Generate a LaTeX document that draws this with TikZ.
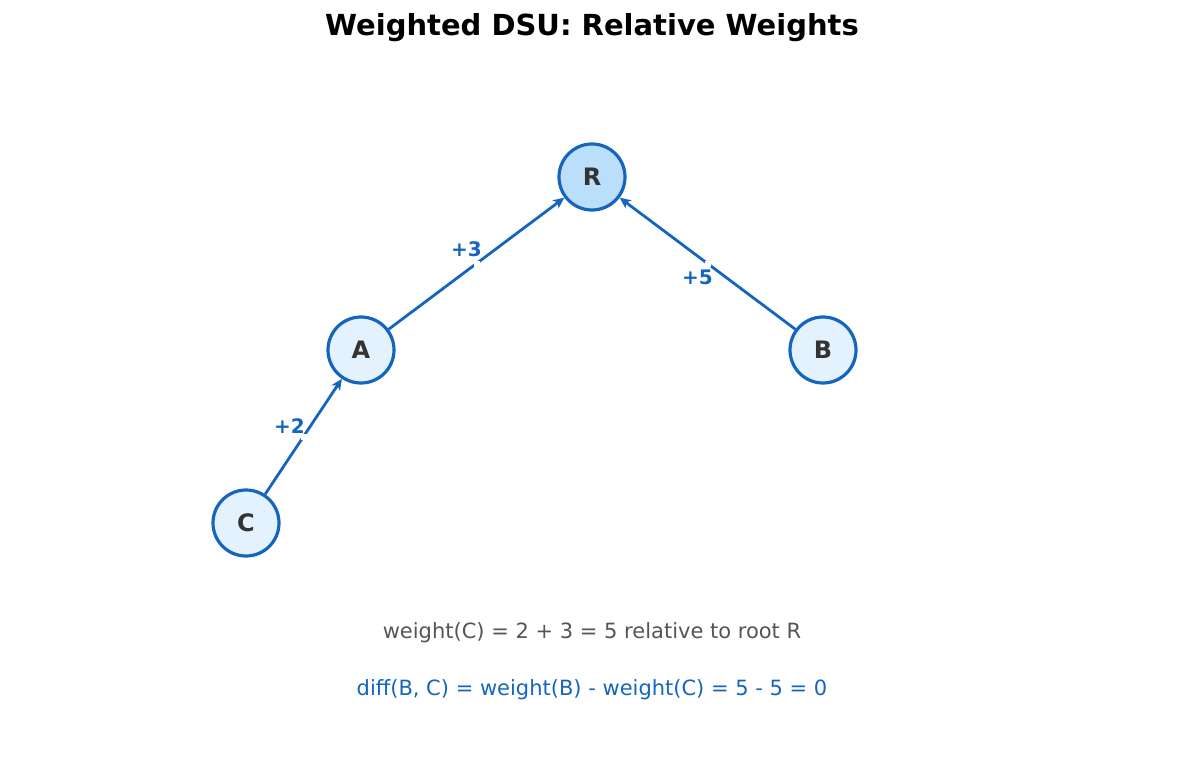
\documentclass[tikz,border=0pt]{standalone}
\usepackage{fontspec}
\setmainfont{DejaVu Sans}
\usetikzlibrary{arrows.meta}
\definecolor{edgeblue}{HTML}{1565C0}
\definecolor{nodefill}{HTML}{E3F2FD}
\definecolor{rootfill}{HTML}{BBDEFB}
\definecolor{darktext}{HTML}{333333}
\definecolor{graytext}{HTML}{555555}
\tikzstyle{vertex}=[circle,draw=edgeblue,line width=3.2pt,fill=nodefill,minimum size=66pt,inner sep=0pt,text=darktext,font=\fontsize{24}{26}\selectfont\bfseries]
\tikzstyle{edge} = [draw,line width=2.8pt,edgeblue,-{Stealth[length=11pt,width=10pt,inset=3pt]}]
\tikzstyle{weight} = [font=\fontsize{20}{22}\selectfont\bfseries,text=edgeblue]
\begin{document}
\begin{tikzpicture}[x=1pt,y=-1pt]
\useasboundingbox (0,0) rectangle (1185,770);
\node[font=\fontsize{29}{32}\selectfont\bfseries] (title) at (592,28) {Weighted DSU: Relative Weights};
\node[vertex,fill=rootfill] (R) at (592,177) {R};
\foreach \pos/\name in {{(361,350)/A}, {(823,350)/B}, {(246,523)/C}}{
  \node[vertex] (\name) at \pos {\name};
}
\foreach \source/\dest/\weight/\dx/\dy in {A/R/3/-10/14, B/R/5/-10/-14, C/A/2/-14/10} {
  \path[edge] (\source) -- (\dest)
    node[midway,fill=white,inner sep=1pt,minimum width=6pt,minimum height=6pt] {}
    node[midway,weight,xshift=\dx,yshift=\dy] {+\weight};
}
\node[font=\fontsize{21}{23}\selectfont,text=graytext] (sum) at (592,633) {weight(C) = 2 + 3 = 5 relative to root R};
\node[font=\fontsize{21}{23}\selectfont,text=edgeblue] (diff) at (592,690) {diff(B, C) = weight(B) - weight(C) = 5 - 5 = 0};
\end{tikzpicture}
\end{document}
